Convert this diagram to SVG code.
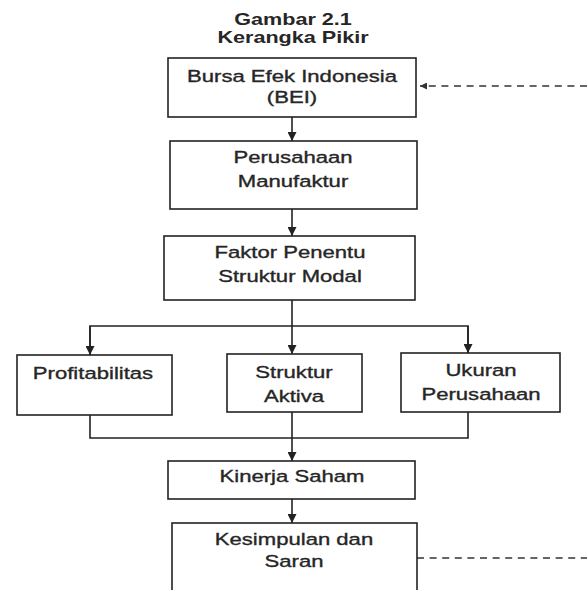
<svg xmlns="http://www.w3.org/2000/svg" width="587" height="590" viewBox="0 0 587 590">
<defs>
<style>
.box{fill:#fff;stroke:#222;stroke-width:1.6}
.ln{fill:none;stroke:#222;stroke-width:1.6}
.dash{fill:none;stroke:#333;stroke-width:1.3;stroke-dasharray:7 5.6}
.t{font-family:"Liberation Sans",Arial,sans-serif;font-size:17px;fill:#262626;stroke:#262626;stroke-width:0.35;text-anchor:middle}
.title{font-family:"Liberation Sans",Arial,sans-serif;font-size:17px;font-weight:bold;fill:#262626;text-anchor:middle}
</style>
<marker id="ah" viewBox="0 0 10 10" refX="10" refY="5" markerWidth="9" markerHeight="9" markerUnits="userSpaceOnUse" orient="auto">
<path d="M0,0 L10,5 L0,10 Z" fill="#222"/>
</marker>
<marker id="ahs" viewBox="0 0 10 10" refX="10" refY="5" markerWidth="7" markerHeight="7" markerUnits="userSpaceOnUse" orient="auto">
<path d="M0,0 L10,5 L0,10 Z" fill="#333"/>
</marker>
</defs>
<rect width="587" height="590" fill="#fff"/>
<g id="title">
<text class="title" transform="translate(293,25) scale(1.27,1)">Gambar 2.1</text>
<text class="title" transform="translate(293,43) scale(1.27,1)">Kerangka Pikir</text>
</g>
<g id="connectors">
<path class="ln" d="M292,117 V141" marker-end="url(#ah)"/>
<path class="ln" d="M292,209 V236" marker-end="url(#ah)"/>
<path class="ln" d="M292,300 V326"/>
<path class="ln" d="M90,355 V326 H468 V353"/>
<path class="ln" d="M90,326 V355" marker-end="url(#ah)"/>
<path class="ln" d="M468,326 V353" marker-end="url(#ah)"/>
<path class="ln" d="M292,326 V354" marker-end="url(#ah)"/>
<path class="ln" d="M90,415 V438 H468 V412"/>
<path class="ln" d="M292,412 V461" marker-end="url(#ah)"/>
<path class="ln" d="M292,499 V523" marker-end="url(#ah)"/>
<path class="dash" d="M587,86 H420" marker-end="url(#ahs)"/>
<path class="dash" d="M417,558 H587"/>
</g>
<g id="bei">
<rect class="box" x="168" y="58" width="248" height="59"/>
<text class="t" transform="translate(292,82) scale(1.3,1)">Bursa Efek Indonesia</text>
<text class="t" transform="translate(292,103) scale(1.3,1)">(BEI)</text>
</g>
<g id="perusahaan">
<rect class="box" x="170" y="141" width="247" height="68"/>
<text class="t" transform="translate(293,163) scale(1.3,1)">Perusahaan</text>
<text class="t" transform="translate(293,187) scale(1.3,1)">Manufaktur</text>
</g>
<g id="faktor">
<rect class="box" x="164" y="236" width="251" height="64"/>
<text class="t" transform="translate(290,258) scale(1.3,1)">Faktor Penentu</text>
<text class="t" transform="translate(290,282) scale(1.3,1)">Struktur Modal</text>
</g>
<g id="profitabilitas">
<rect class="box" x="17" y="355" width="155" height="60"/>
<text class="t" transform="translate(93,379) scale(1.3,1)">Profitabilitas</text>
</g>
<g id="struktur">
<rect class="box" x="227" y="354" width="135" height="58"/>
<text class="t" transform="translate(294,378) scale(1.3,1)">Struktur</text>
<text class="t" transform="translate(294,402) scale(1.3,1)">Aktiva</text>
</g>
<g id="ukuran">
<rect class="box" x="401" y="353" width="159" height="59"/>
<text class="t" transform="translate(481,376) scale(1.3,1)">Ukuran</text>
<text class="t" transform="translate(481,400) scale(1.3,1)">Perusahaan</text>
</g>
<g id="kinerja">
<rect class="box" x="168" y="461" width="247" height="38"/>
<text class="t" transform="translate(292,482) scale(1.3,1)">Kinerja Saham</text>
</g>
<g id="kesimpulan">
<rect class="box" x="172" y="523" width="245" height="90"/>
<text class="t" transform="translate(294,545) scale(1.3,1)">Kesimpulan dan</text>
<text class="t" transform="translate(294,567) scale(1.3,1)">Saran</text>
</g>
</svg>
